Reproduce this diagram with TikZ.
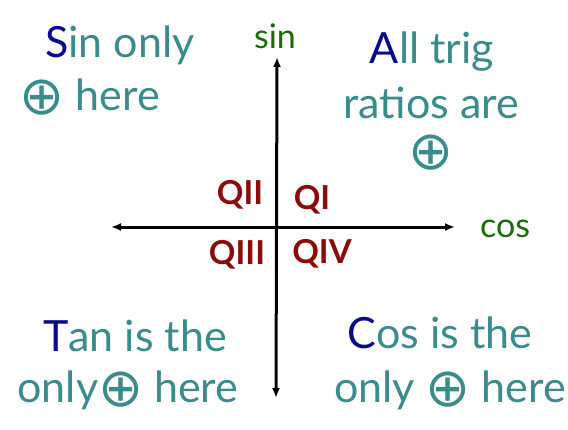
\documentclass[tikz,border=0pt]{standalone}
\usepackage{fontspec}
\setmainfont{Lato}
\newfontfamily\symfont{DejaVu Sans}
\usepackage{tikz}
\usetikzlibrary{arrows.meta, positioning}
\definecolor{QD_BLUE}{HTML}{0a0a8c}
\definecolor{QD_TEAL}{HTML}{3a8c8c}
\definecolor{QD_GREEN}{HTML}{1a6b0a}
\definecolor{QD_RED}{HTML}{8b0a0a}
\tikzset{
  note/.style={
    inner sep=0pt, align=center,
    text=QD_TEAL, font=\fontsize{43}{52}\selectfont},
  axlabel/.style={
    inner sep=0pt,
    text=QD_GREEN, font=\fontsize{34}{40}\selectfont},
  quad/.style={
    inner sep=0pt,
    text=QD_RED, font=\fontsize{33}{38}\selectfont\bfseries},
  axis/.style={{Latex[length=10pt,width=8pt]}-{Latex[length=10pt,width=8pt]},
    line width=3pt, color=black},
}
\newcommand{\plusmark}{\raisebox{-4pt}{\scalebox{1.25}{\symfont ⊕}}}
\newcommand{\key}[1]{\textcolor{QD_BLUE}{#1}}

\begin{document}
\begin{tikzpicture}[x=1pt, y=-1pt]
  \useasboundingbox (0,0) rectangle (568,429);

  % axes
  \coordinate (left) at (111,227);
  \coordinate (right) at (455,227);
  \coordinate (top) at (277,57);
  \coordinate (bottom) at (276,398);
  \draw[axis] (left) -- (right);
  \draw[axis] (bottom) -- (top);

  \node[axlabel] (sinlbl) at (275,36) {sin};
  \node[axlabel] (coslbl) at (505,229) {cos};

  % quadrant names
  \node[quad] (q2) at (240,195) {QII};
  \node[quad] (q1) at (312,200) {QI};
  \node[quad] (q3) at (237,255) {QIII};
  \node[quad] (q4) at (322,254) {QIV};

  % signs in each quadrant
  \node[note] (sin1) at (120,45) {\key{S}in only};
  \node[note] (sin2) at (90,97) {\plusmark\ here};

  \node[note] (all1) at (432,52) {\key{A}ll trig};
  \node[note] (all2) at (431,103) {ratios are};
  \node[note] (all3) at (431,153) {\plusmark};

  \node[note] (tan1) at (135,336) {\key{T}an is the};
  \node[note] (tan2) at (128,390) {only\plusmark\ here};

  \node[note] (cos1) at (440,333) {\key{C}os is the};
  \node[note] (cos2) at (450,390) {only \plusmark\ here};

\end{tikzpicture}
\end{document}
